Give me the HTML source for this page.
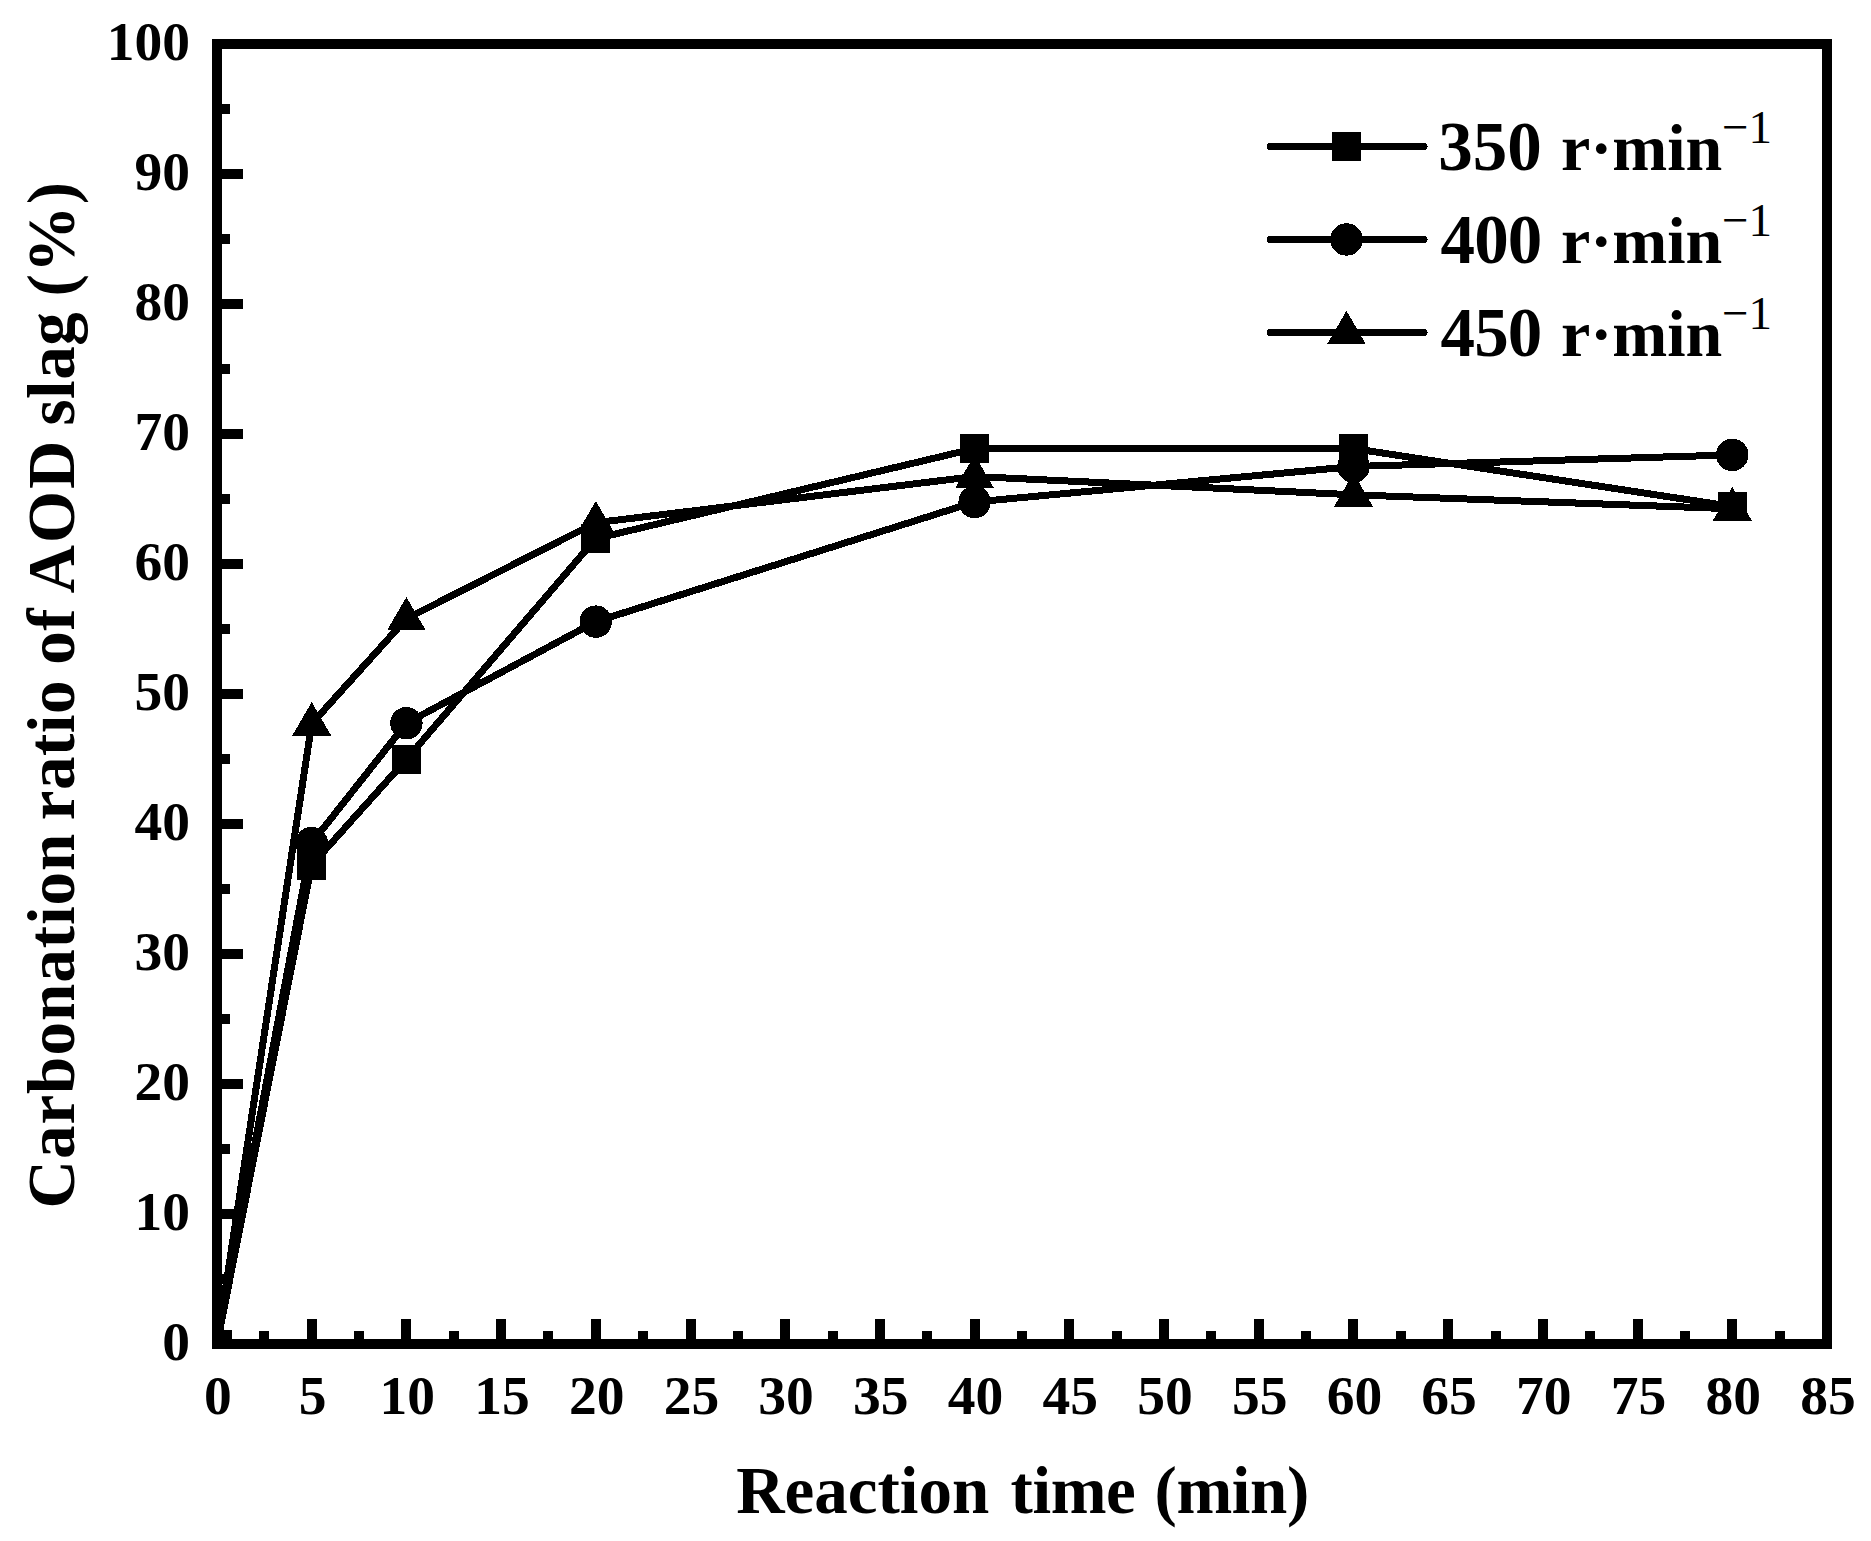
<!DOCTYPE html>
<html lang="en">
<head>
<meta charset="utf-8">
<title>Carbonation ratio of AOD slag</title>
<style>
html,body{margin:0;padding:0;background:#fff;}
body{width:1871px;height:1541px;overflow:hidden;}
svg{display:block;}
rect,path,circle,polyline{shape-rendering:crispEdges;}
text{font-family:"Liberation Serif","Times New Roman",serif;font-weight:bold;fill:#000;}
.tick{font-size:55.5px;}
.title{font-size:67px;}
.leg{font-size:66px;}
.num{font-size:69px;}
.sup{font-size:47px;font-weight:normal;}
</style>
</head>
<body>
<svg width="1871" height="1541" viewBox="0 0 1871 1541">
<rect x="0" y="0" width="1871" height="1541" fill="#fff"/>
<rect x="217.0" y="44.0" width="1610.0" height="1300.0" fill="none" stroke="#000" stroke-width="10"/>
<path d="M311.71 1339.0 v-20 M406.41 1339.0 v-20 M501.12 1339.0 v-20 M595.82 1339.0 v-20 M690.53 1339.0 v-20 M785.24 1339.0 v-20 M879.94 1339.0 v-20 M974.65 1339.0 v-20 M1069.35 1339.0 v-20 M1164.06 1339.0 v-20 M1258.76 1339.0 v-20 M1353.47 1339.0 v-20 M1448.18 1339.0 v-20 M1542.88 1339.0 v-20 M1637.59 1339.0 v-20 M1732.29 1339.0 v-20 M264.35 1339.0 v-8 M359.06 1339.0 v-8 M453.76 1339.0 v-8 M548.47 1339.0 v-8 M643.18 1339.0 v-8 M737.88 1339.0 v-8 M832.59 1339.0 v-8 M927.29 1339.0 v-8 M1022.00 1339.0 v-8 M1116.71 1339.0 v-8 M1211.41 1339.0 v-8 M1306.12 1339.0 v-8 M1400.82 1339.0 v-8 M1495.53 1339.0 v-8 M1590.24 1339.0 v-8 M1684.94 1339.0 v-8 M1779.65 1339.0 v-8 M222.0 1214.00 h21 M222.0 1084.00 h21 M222.0 954.00 h21 M222.0 824.00 h21 M222.0 694.00 h21 M222.0 564.00 h21 M222.0 434.00 h21 M222.0 304.00 h21 M222.0 174.00 h21 M222.0 1279.00 h8 M222.0 1149.00 h8 M222.0 1019.00 h8 M222.0 889.00 h8 M222.0 759.00 h8 M222.0 629.00 h8 M222.0 499.00 h8 M222.0 369.00 h8 M222.0 239.00 h8 M222.0 109.00 h8" stroke="#000" stroke-width="10" fill="none"/>
<g class="tick" text-anchor="middle">
<text x="217.9" y="1414.3">0</text><text x="312.6" y="1414.3">5</text><text x="407.3" y="1414.3">10</text><text x="502.0" y="1414.3">15</text><text x="596.7" y="1414.3">20</text><text x="691.4" y="1414.3">25</text><text x="786.1" y="1414.3">30</text><text x="880.8" y="1414.3">35</text><text x="975.5" y="1414.3">40</text><text x="1070.3" y="1414.3">45</text><text x="1165.0" y="1414.3">50</text><text x="1259.7" y="1414.3">55</text><text x="1354.4" y="1414.3">60</text><text x="1449.1" y="1414.3">65</text><text x="1543.8" y="1414.3">70</text><text x="1638.5" y="1414.3">75</text><text x="1733.2" y="1414.3">80</text><text x="1827.9" y="1414.3">85</text>
</g>
<g class="tick" text-anchor="end">
<text x="190" y="1359.6">0</text><text x="190" y="1229.6">10</text><text x="190" y="1099.6">20</text><text x="190" y="969.6">30</text><text x="190" y="839.6">40</text><text x="190" y="709.6">50</text><text x="190" y="579.6">60</text><text x="190" y="449.6">70</text><text x="190" y="319.6">80</text><text x="190" y="189.6">90</text><text x="190" y="59.6">100</text>
</g>
<text class="title" y="1512.5"><tspan x="736.2">Reaction</tspan> <tspan x="1010.5" letter-spacing="-0.4">time</tspan> <tspan x="1154.5" letter-spacing="-0.4">(min)</tspan></text>
<text class="title" transform="translate(74.2 1208.5) rotate(-90)" y="0"><tspan x="0" letter-spacing="1">Carbonation</tspan> <tspan x="388.3" letter-spacing="0.5">ratio</tspan> <tspan x="543.8" letter-spacing="0.5">of</tspan> <tspan x="615" letter-spacing="2">AOD</tspan> <tspan x="783" letter-spacing="0.5">slag</tspan> <tspan x="912.1" letter-spacing="1.4">(%)</tspan></text>
<g fill="none" stroke="#000" stroke-width="7" stroke-linejoin="round" stroke-linecap="round">
<polyline points="217.0,1344.0 311.7,865.0 406.4,759.4 595.8,538.6 974.6,448.6 1353.5,448.6 1732.3,506.5"/>
<polyline points="217.0,1344.0 311.7,843.0 406.4,723.2 595.8,621.6 974.6,502.0 1353.5,466.5 1732.3,454.9"/>
<polyline points="217.0,1344.0 311.7,723.8 406.4,618.7 595.8,522.7 974.6,476.5 1353.5,494.8 1732.3,508.8"/>
</g>
<clipPath id="inner"><rect x="222" y="49" width="1600" height="1290"/></clipPath>
<g fill="#000" stroke="none" clip-path="url(#inner)"><rect x="202.5" y="1329.5" width="29" height="29"/><circle cx="217.0" cy="1344.0" r="16.2"/><path d="M217.0 1322.3 L236.4 1355.7 L197.6 1355.7 Z"/></g>
<g fill="#000" stroke="none">
<rect x="297.2" y="850.5" width="29" height="29"/><rect x="391.9" y="744.9" width="29" height="29"/><rect x="581.3" y="524.1" width="29" height="29"/><rect x="960.1" y="434.1" width="29" height="29"/><rect x="1339.0" y="434.1" width="29" height="29"/><rect x="1717.8" y="492.0" width="29" height="29"/>
<circle cx="311.7" cy="843.0" r="16.2"/><circle cx="406.4" cy="723.2" r="16.2"/><circle cx="595.8" cy="621.6" r="16.2"/><circle cx="974.6" cy="502.0" r="16.2"/><circle cx="1353.5" cy="466.5" r="16.2"/><circle cx="1732.3" cy="454.9" r="16.2"/>
<path d="M311.7 702.1 L331.1 735.5 L292.3 735.5 Z"/><path d="M406.4 597.0 L425.8 630.4 L387.0 630.4 Z"/><path d="M595.8 501.0 L615.2 534.4 L576.4 534.4 Z"/><path d="M974.6 454.8 L994.0 488.2 L955.2 488.2 Z"/><path d="M1353.5 473.1 L1372.9 506.5 L1334.1 506.5 Z"/><path d="M1732.3 487.1 L1751.7 520.5 L1712.9 520.5 Z"/>
</g>
<g>
<path d="M1270.4 146.5 H1424.1" stroke="#000" stroke-width="7" stroke-linecap="round" fill="none"/><g fill="#000" stroke="none"><rect x="1332.0" y="132.0" width="29" height="29"/></g><text class="leg" y="170.2"><tspan class="num" x="1438.3" letter-spacing="0">350</tspan> <tspan x="1561">r·min</tspan><tspan class="sup" x="1722" dy="-27.3">−1</tspan></text>
<path d="M1270.4 239.5 H1424.1" stroke="#000" stroke-width="7" stroke-linecap="round" fill="none"/><g fill="#000" stroke="none"><circle cx="1346.5" cy="239.5" r="16.2"/></g><text class="leg" y="263.2"><tspan class="num" x="1440.6" letter-spacing="-0.9">400</tspan> <tspan x="1561">r·min</tspan><tspan class="sup" x="1722" dy="-27.3">−1</tspan></text>
<path d="M1270.4 332.5 H1424.1" stroke="#000" stroke-width="7" stroke-linecap="round" fill="none"/><g fill="#000" stroke="none"><path d="M1346.5 310.8 L1365.9 344.2 L1327.1 344.2 Z"/></g><text class="leg" y="356.2"><tspan class="num" x="1440.6" letter-spacing="-0.9">450</tspan> <tspan x="1561">r·min</tspan><tspan class="sup" x="1722" dy="-27.3">−1</tspan></text>
</g>
</svg>
</body>
</html>
